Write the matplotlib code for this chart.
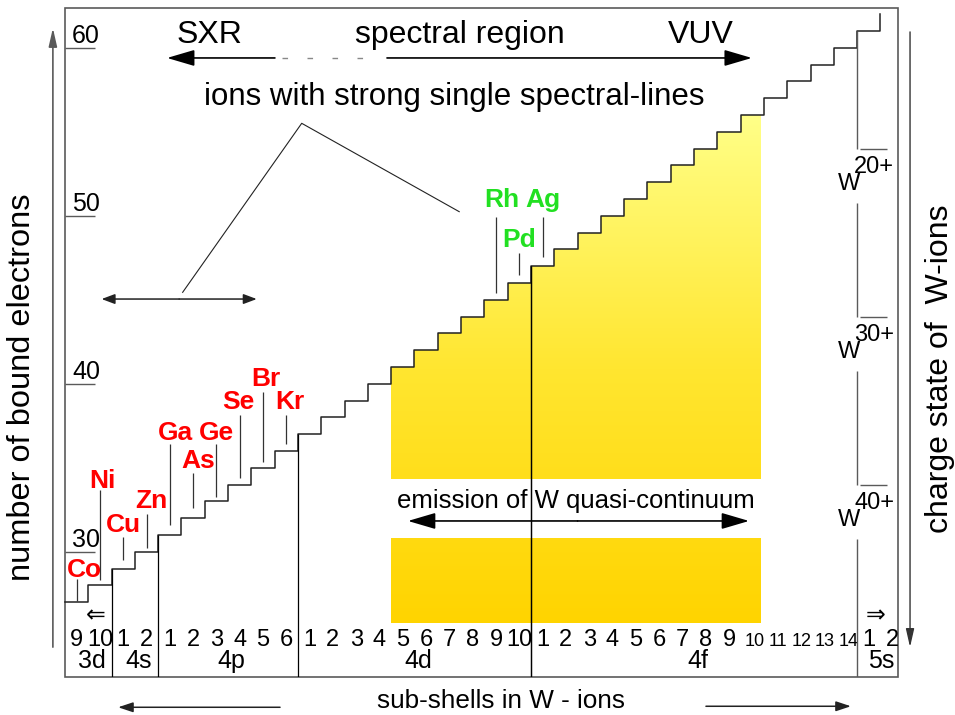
import matplotlib
matplotlib.use("Agg")
import matplotlib.pyplot as plt
import numpy as np
from matplotlib.colors import LinearSegmentedColormap
from matplotlib.patches import Polygon, Rectangle

plt.rcParams['font.family'] = ['Liberation Sans', 'DejaVu Sans']

# sub-shells filled along the W ion sequence, 3d9 ... 5s2
shells = ["3d", "4s", "4p", "4d", "4f", "5s"]
shell_occupancy = [
    [9, 10],
    [1, 2],
    [1, 2, 3, 4, 5, 6],
    [1, 2, 3, 4, 5, 6, 7, 8, 9, 10],
    [1, 2, 3, 4, 5, 6, 7, 8, 9, 10, 11, 12, 13, 14],
    [1, 2],
]
bound_electrons = [27, 28, 29, 30, 31, 32, 33, 34, 35, 36,
                   37, 38, 39, 40, 41, 42, 43, 44, 45, 46,
                   47, 48, 49, 50, 51, 52, 53, 54, 55, 56,
                   57, 58, 59, 60, 61, 62]

# ions with strong single lines and the step their marker points at
sxr_ions = ["Co", "Ni", "Cu", "Zn", "Ga", "Ge", "As", "Se", "Br", "Kr"]
sxr_targets = [27, 28, 29, 30, 31, 33, 32, 34, 35, 36]
vuv_ions = ["Rh", "Pd", "Ag"]
vuv_targets = [45, 46, 47]

# quasi-continuum band: 4d5 ... 4f10
qc_first, qc_last = 41, 56

nuclear_charge = 74
charge_states = [20, 30, 40]
electron_ticks = [30, 40, 50, 60]

# label layout: (label x, baseline y, marker bottom, marker top)
ion_layout = {
    "Co": (0.82, 28.49, 27.06, 28.37),
    "Ni": (1.61, 33.79, 28.30, 33.67),
    "Cu": (2.51, 31.17, 29.50, 30.90),
    "Zn": (3.69, 32.60, 30.20, 32.24),
    "Ga": (4.76, 36.65, 31.59, 36.41),
    "Ge": (6.52, 36.65, 33.25, 36.41),
    "As": (5.73, 34.98, 32.60, 34.68),
    "Se": (7.42, 38.49, 34.39, 38.14),
    "Br": (8.63, 39.86, 35.34, 39.51),
    "Kr": (9.64, 38.49, 36.41, 38.14),
    "Rh": (18.73, 50.51, 45.40, 49.92),
    "Pd": (19.48, 48.13, 46.47, 47.78),
    "Ag": (20.52, 50.51, 47.54, 49.92),
}

BOX_L, BOX_R, BOX_B, BOX_T = 0.0, 35.75, 22.54, 62.39
GREY = "#5a5a5a"


def col_of(n):
    return bound_electrons.index(n)


def arrow(ax, tail, tip, hl, hw, color="black", lw=1.2):
    ax.annotate("", xy=tip, xytext=tail,
                arrowprops=dict(arrowstyle=f"-|>,head_length={hl},head_width={hw}",
                                color=color, lw=lw, shrinkA=0, shrinkB=0,
                                mutation_scale=1))


fig = plt.figure(figsize=(9.55, 7.15), dpi=100)
ax = fig.add_axes([0, 0, 1, 1])

# frame; also used to keep the inner lines inside it
frame = Rectangle((BOX_L, BOX_B), BOX_R - BOX_L, BOX_T - BOX_B,
                  fill=False, ec=GREY, lw=1.2, zorder=3)
ax.add_patch(frame)


def inside(artist):
    artist.set_clip_path(frame)
    return artist


# yellow gradient for the W quasi-continuum region
cmap = LinearSegmentedColormap.from_list("qc", ["#FFD400", "#FFE630", "#FFFF88"])
c0, c1 = col_of(qc_first), col_of(qc_last) + 0.87
upper = [(c0, 34.33)]
for c in range(c0, col_of(qc_last) + 1):
    upper += [(c, bound_electrons[c]), (c + 1, bound_electrons[c])]
upper[-1] = (c1, bound_electrons[col_of(qc_last)])
upper.append((c1, 34.33))
lower = [(c0, 25.76), (c1, 25.76), (c1, 30.82), (c0, 30.82)]
grad = np.linspace(0, 1, 256).reshape(-1, 1)
for pts in (upper, lower):
    poly = Polygon(pts, closed=True, fc="none", ec="none")
    ax.add_patch(poly)
    im = ax.imshow(grad, cmap=cmap, origin="lower", aspect="auto",
                   extent=(c0, c1, 25.76, 56.05), zorder=1)
    im.set_clip_path(poly)

# staircase of bound electrons
xs, ys = [0], [bound_electrons[0]]
for c in range(len(bound_electrons) - 1):
    xs += [c + 1, c + 1]
    ys += [bound_electrons[c], bound_electrons[c + 1]]
ax.plot(xs, ys, color="#222222", lw=1.1, zorder=4)

# sub-shell boundaries and labels
starts = [0]
for occ in shell_occupancy:
    starts.append(starts[-1] + len(occ))
for i, shell in enumerate(shells):
    s, e = starts[i], starts[i + 1]
    if 0 < i < len(shells) - 1:
        inside(ax.vlines(s, BOX_B, bound_electrons[s], color="black", lw=0.9,
                         zorder=4))
    for k, occ in enumerate(shell_occupancy[i]):
        small = shell == "4f" and occ >= 10
        ax.text(s + k + 0.5 + (0.12 if small else 0), 24.38, str(occ),
                fontsize=13 if small else 17, ha="center", va="baseline")
    ax.text((s + min(e, BOX_R)) / 2 + 0.15, 23.07, shell, fontsize=18,
            ha="center", va="baseline")

# 5s boundary doubling as charge-state scale
s5 = starts[-2]
top = bound_electrons[s5]
for q in charge_states:
    n = nuclear_charge - q
    inside(ax.vlines(s5, n, top, color=GREY, lw=1.0, zorder=4))
    ax.hlines(n, s5 + 0.13, s5 + 1.28, color=GREY, lw=1.0, zorder=4)
    ax.text(s5 - 0.37, n - 2.48, "W", fontsize=17, ha="center", va="baseline")
    ax.text(s5 - 0.13, n - 1.46, f"{q}+", fontsize=17, ha="left", va="baseline")
    top = n - 3.24
inside(ax.vlines(s5, BOX_B, top, color=GREY, lw=1.0, zorder=4))

ax.text(1.33, 26.2, "\u21d0", fontsize=17, ha="center", va="center",
        family=["DejaVu Sans"])
ax.text(34.8, 26.2, "\u21d2", fontsize=17, ha="center", va="center",
        family=["DejaVu Sans"])

# electron-number ticks
for n in electron_ticks:
    ax.hlines(n, BOX_L, 1.29, color=GREY, lw=1.0, zorder=4)
    ax.text(0.3, n + 0.27, str(n), fontsize=18, ha="left", va="baseline")

# element markers
for names, targets, color in ((sxr_ions, sxr_targets, "#FF0000"),
                              (vuv_ions, vuv_targets, "#22E022")):
    for name, n in zip(names, targets):
        lx, ly, yb, yt = ion_layout[name]
        cx = col_of(n) + 0.5
        ax.vlines(cx, yb, yt, color="#333333", lw=0.9, zorder=4)
        ax.text(lx, ly, name, fontsize=19, fontweight="bold", color=color,
                ha="center", va="baseline")

# spectral region arrow
ax.text(6.22, 60.27, "SXR", fontsize=23, ha="center", va="baseline")
ax.text(16.93, 60.27, "spectral region", fontsize=23, ha="center", va="baseline")
ax.text(27.3, 60.27, "VUV", fontsize=23, ha="center", va="baseline")
arrow(ax, (9.01, 59.39), (4.38, 59.39), 17, 5)
arrow(ax, (13.82, 59.39), (29.48, 59.39), 17, 5)
ax.plot([9.3, 13.6], [59.39, 59.39], color="#888888", lw=1.0,
        dashes=(4, 14))

# strong single lines annotation
ax.text(16.72, 56.58, "ions with strong single spectral-lines", fontsize=22.5,
        ha="center", va="baseline")
ax.plot([5.05, 10.16, 16.92], [45.44, 55.5, 50.24], color="#222222", lw=0.8)
arrow(ax, (4.9, 45.04), (1.57, 45.04), 8, 3, color="#222222", lw=1.1)
arrow(ax, (4.9, 45.04), (8.23, 45.04), 8, 3, color="#222222", lw=1.1)

# quasi-continuum annotation
ax.text(21.93, 32.62, "emission of W quasi-continuum", fontsize=18.5,
        ha="center", va="baseline")
arrow(ax, (22.0, 31.83), (14.72, 31.83), 17, 5)
arrow(ax, (22.0, 31.83), (29.36, 31.83), 17, 5)
inside(ax.vlines(col_of(47), BOX_B, 47, color="black", lw=0.9, zorder=4))

# axis titles and direction arrows
ax.text(-1.85, 39.8, "number of bound electrons", fontsize=23.4, rotation=90,
        ha="center", va="center")
ax.text(37.55, 40.92, "charge state of  W-ions", fontsize=23, rotation=90,
        ha="center", va="center")
arrow(ax, (-0.52, 24.32), (-0.52, 61.17), 11, 2.5, color=GREY, lw=1.2)
arrow(ax, (36.27, 60.94), (36.27, 24.32), 11, 2.5, color="#333333", lw=1.0)

ax.text(18.71, 20.70, "sub-shells in W - ions", fontsize=18.8, ha="center",
        va="baseline")
arrow(ax, (9.23, 20.74), (2.28, 20.74), 9, 3, color="#222222", lw=1.1)
arrow(ax, (27.51, 20.8), (33.73, 20.8), 9, 3, color="#222222", lw=1.1)

ax.set_xlim(-2.79, 38.20)
ax.set_ylim(20.28, 62.84)
ax.axis("off")

fig.savefig("out.png", dpi=100)
